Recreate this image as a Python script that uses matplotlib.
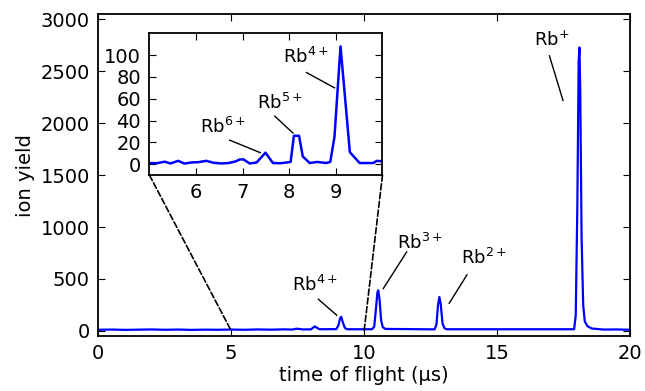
import matplotlib
matplotlib.use("Agg")
import matplotlib.pyplot as plt
from matplotlib.patches import ConnectionPatch

# full spectrum (time of flight in us, ion yield)
tof = [0, 0.5, 1.0, 1.5, 2.0, 2.5, 3.0, 3.5, 4.0, 4.5,
       5.0, 5.5, 6.0, 6.5, 7.0, 7.3, 7.45, 7.55, 7.7, 8.0,
       8.08, 8.15, 8.22, 8.32, 8.95, 9.03, 9.1, 9.14, 9.2, 9.27,
       9.35, 10.3, 10.38, 10.44, 10.5, 10.53, 10.58, 10.64, 10.7, 10.8,
       12.65, 12.72, 12.78, 12.83, 12.88, 12.95, 13.02, 13.1, 17.9, 17.96,
       18.02, 18.07, 18.1, 18.13, 18.18, 18.24, 18.3, 18.4, 18.56, 19.0,
       19.5, 20.0]
yld = [10, 12, 9, 11, 13, 10, 12, 9, 11, 10,
       12, 10, 13, 11, 14, 12, 20, 18, 13, 14,
       30, 42, 30, 15, 16, 50, 125, 135, 80, 30,
       15, 15, 40, 200, 370, 390, 300, 100, 35, 18,
       14, 60, 250, 326, 260, 70, 25, 15, 15, 150,
       1200, 2600, 2730, 2300, 900, 250, 90, 45, 22, 12,
       13, 10]

# zoomed region 5-10 us
ins_tof = [5.0, 5.15, 5.33, 5.45, 5.62, 5.75, 5.9, 6.05, 6.22, 6.38,
           6.55, 6.7, 6.85, 6.94, 7.02, 7.15, 7.3, 7.49, 7.65, 7.8,
           7.95, 8.03, 8.10, 8.21, 8.29, 8.44, 8.6, 8.79, 8.88, 8.97,
           9.10, 9.30, 9.51, 9.7, 9.8, 9.88, 10.0]
ins_yld = [1, 0.8, 2.2, 0.6, 3, 0.5, 1.5, 1.8, 3, 1.2,
           0.6, 1, 2.5, 4.3, 4.3, 0.6, 1.5, 10.5, 1, 0.8,
           1.5, 2, 26, 26, 7, 1, 2, 1, 2, 25,
           108, 11, 1, 1, 1, 3, 2.5]

main_labels = ["Rb$^{+}$", "Rb$^{2+}$", "Rb$^{3+}$", "Rb$^{4+}$"]
ins_labels = ["Rb$^{4+}$", "Rb$^{5+}$", "Rb$^{6+}$"]

# label layout: text pos, line start, line end
main_txt = [(17.07, 2800), (14.5, 700), (12.1, 845), (8.15, 440)]
main_lines = [((16.97, 2650), (17.48, 2220)), ((13.87, 540), (13.2, 265)),
              ((11.6, 760), (10.72, 407)), ((8.28, 304), (8.97, 150))]
ins_txt = [(8.35, 98), (7.79, 56), (6.57, 34)]
ins_lines = [((8.37, 84), (8.97, 70)), ((7.69, 44), (8.08, 28.5)),
             ((6.72, 22), (7.38, 10.5))]

plt.rcParams['font.family'] = ['DejaVu Sans']
plt.rcParams['mathtext.default'] = 'regular'

fig = plt.figure(figsize=(6.45, 3.91), dpi=100)
ax = fig.add_axes([0.1524, 0.1407, 0.8243, 0.8227])
ax.plot(tof, yld, color='#0000ff', lw=1.6)
ax.set_xlim(0, 20)
ax.set_ylim(-50, 3050)
ax.set_xticks([0, 5, 10, 15, 20])
ax.set_yticks([0, 500, 1000, 1500, 2000, 2500, 3000])
ax.set_xlabel("time of flight (µs)", fontsize=14, labelpad=2)
ax.set_ylabel("ion yield", fontsize=14, labelpad=4)
ax.tick_params(direction='in', top=True, right=True, labelsize=14, length=5, pad=6)
for sp in ax.spines.values():
    sp.set_linewidth(1.3)

for lab, (tx, ty), (p0, p1) in zip(main_labels, main_txt, main_lines):
    ax.text(tx, ty, lab, fontsize=13, ha='center', va='center')
    ax.plot([p0[0], p1[0]], [p0[1], p1[1]], color='k', lw=1)

ins = fig.add_axes([0.2316, 0.5524, 0.3614, 0.3624])
ins.plot(ins_tof, ins_yld, color='#0000ff', lw=1.8)
ins.set_xlim(5, 10)
ins.set_ylim(-10, 120)
ins.set_xticks([6, 7, 8, 9])
ins.set_yticks([0, 20, 40, 60, 80, 100])
ins.tick_params(direction='in', top=True, right=True, labelsize=14, length=5, pad=6)
for sp in ins.spines.values():
    sp.set_linewidth(1.3)

for lab, (tx, ty), (p0, p1) in zip(ins_labels, ins_txt, ins_lines):
    ins.text(tx, ty, lab, fontsize=13, ha='center', va='center')
    ins.plot([p0[0], p1[0]], [p0[1], p1[1]], color='k', lw=1)

for xa, xb in [(0, 5), (1, 10)]:
    con = ConnectionPatch(xyA=(xa, 0), coordsA=ins.transAxes,
                          xyB=(xb, 0), coordsB=ax.transData,
                          ls='--', color='k', lw=1.2)
    fig.add_artist(con)

fig.savefig("out.png", dpi=100)
